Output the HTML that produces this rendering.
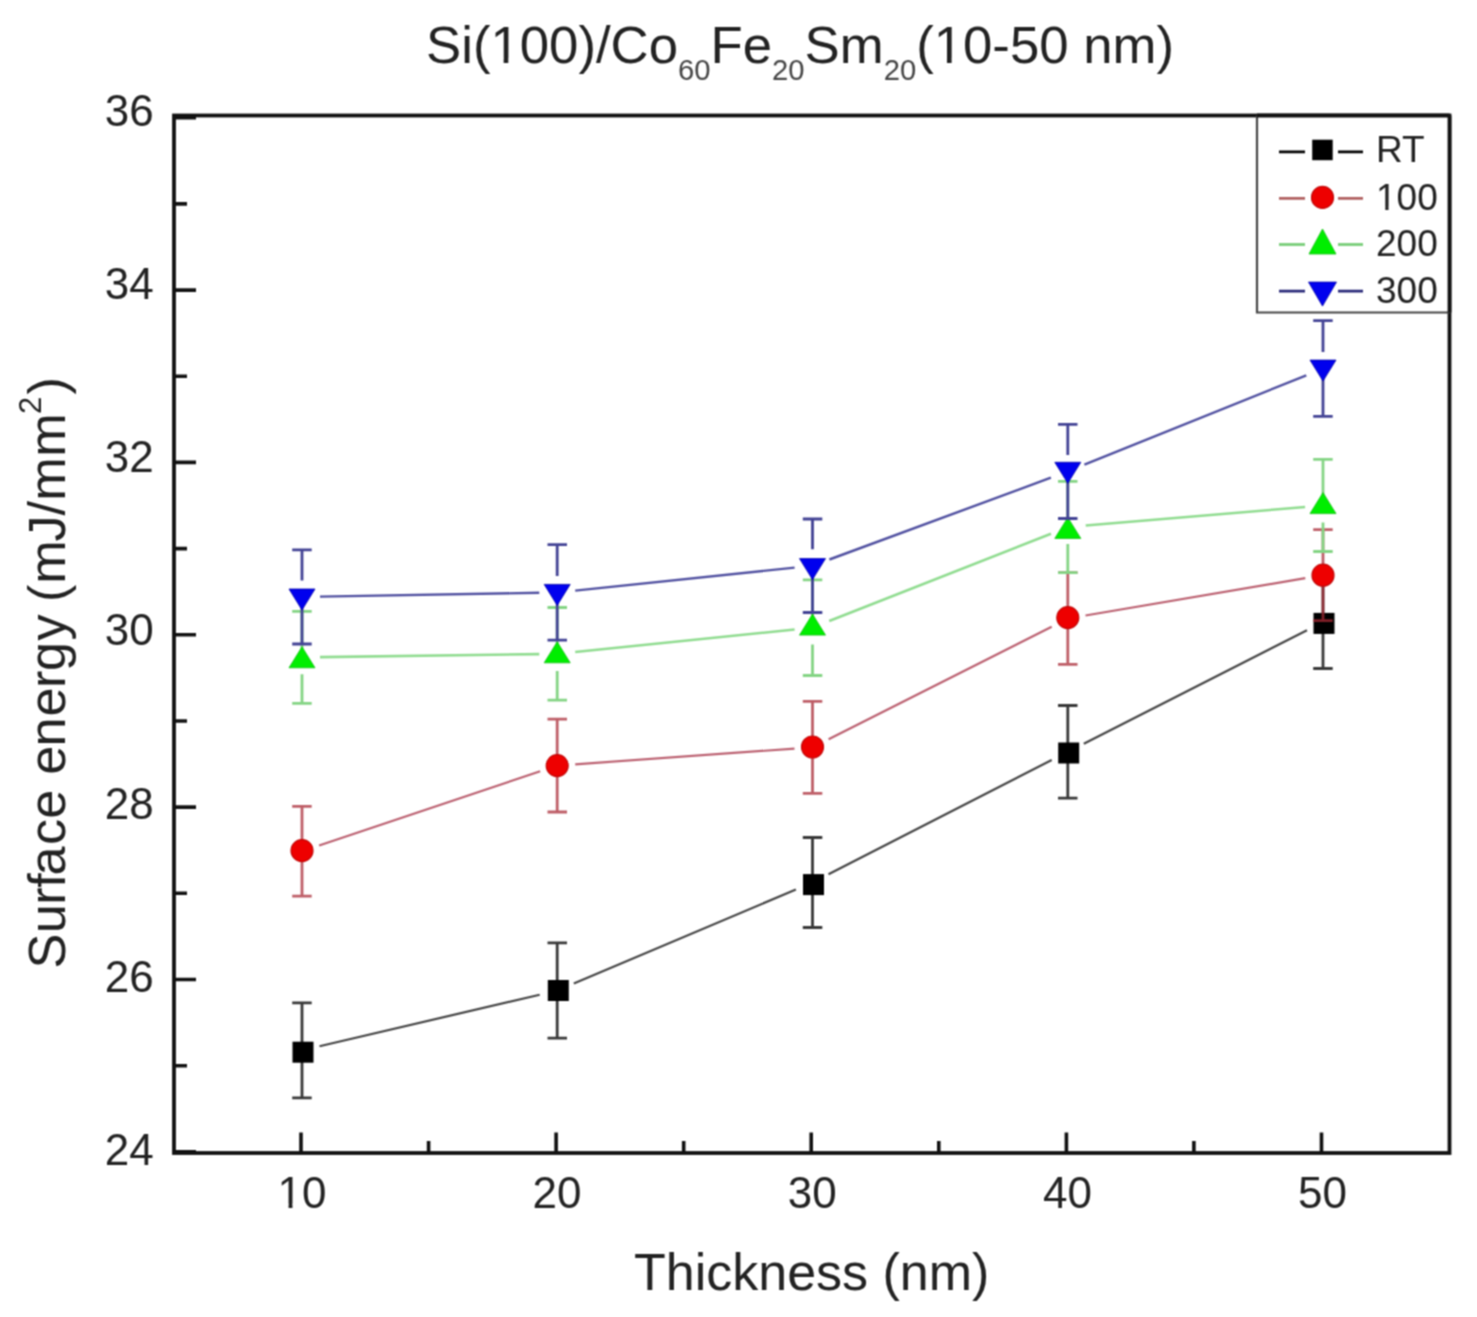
<!DOCTYPE html><html><head><meta charset="utf-8"><style>
html,body{margin:0;padding:0;background:#fff;overflow:hidden;width:1477px;height:1317px;}
svg{display:block;}
text{font-family:"Liberation Sans",sans-serif;fill:#222;}
</style></head><body>
<svg width="1477" height="1317" viewBox="0 0 1477 1317">
<defs><filter id="sf" x="0" y="0" width="1477" height="1317" filterUnits="userSpaceOnUse" color-interpolation-filters="sRGB"><feConvolveMatrix order="3" kernelMatrix="1 2 1 2 4 2 1 2 1" divisor="16" edgeMode="duplicate" preserveAlpha="true"/></filter></defs>
<rect x="0" y="0" width="1477" height="1317" fill="#fff"/>
<g filter="url(#sf)">
<rect x="0" y="0" width="1477" height="1317" fill="#fff"/>
<text x="426" y="63" font-size="52.3" textLength="748" lengthAdjust="spacingAndGlyphs">Si(100)/Co<tspan font-size="29" dy="17" fill="#444">60</tspan><tspan dy="-17">Fe</tspan><tspan font-size="29" dy="17" fill="#444">20</tspan><tspan dy="-17">Sm</tspan><tspan font-size="29" dy="17" fill="#444">20</tspan><tspan dy="-17">(10-50 nm)</tspan></text>
<text transform="translate(64.5,968.5) rotate(-90)" x="0.00 35.38 63.65 80.67 92.91 123.58 149.74 179.02 193.65 221.94 252.02 280.50 297.52 328.00 353.16 366.49 384.69 427.07 453.11 467.84 511.81 554.48 574.03" y="0" font-size="52.3">Surface energy (mJ/mm<tspan font-size="31" dy="-24">2</tspan><tspan dy="24">)</tspan></text>
<text x="634" y="1289.7" font-size="52">Thickness (nm)</text>
<text x="153.7" y="1164.8" font-size="44" text-anchor="end">24</text>
<text x="153.7" y="991.6" font-size="44" text-anchor="end">26</text>
<text x="153.7" y="818.5" font-size="44" text-anchor="end">28</text>
<text x="153.7" y="645.3" font-size="44" text-anchor="end">30</text>
<text x="153.7" y="472.2" font-size="44" text-anchor="end">32</text>
<text x="153.7" y="299.0" font-size="44" text-anchor="end">34</text>
<text x="153.7" y="125.8" font-size="44" text-anchor="end">36</text>
<text x="302.0" y="1207.5" font-size="44" text-anchor="middle">10</text>
<text x="557.1" y="1207.5" font-size="44" text-anchor="middle">20</text>
<text x="812.2" y="1207.5" font-size="44" text-anchor="middle">30</text>
<text x="1067.4" y="1207.5" font-size="44" text-anchor="middle">40</text>
<text x="1322.5" y="1207.5" font-size="44" text-anchor="middle">50</text>
<path d="M174 1151.9H196 M174 1065.7H187 M174 979.5H196 M174 893.3H187 M174 807.1H196 M174 721.0H187 M174 634.8H196 M174 548.6H187 M174 462.4H196 M174 376.2H187 M174 290.1H196 M174 203.9H187 M174 117.7H196 M301.0 1153V1132.5 M428.6 1153V1141 M556.1 1153V1132.5 M683.7 1153V1141 M811.2 1153V1132.5 M938.8 1153V1141 M1066.4 1153V1132.5 M1193.9 1153V1141 M1321.5 1153V1132.5" stroke="#111" stroke-width="3.6" fill="none"/>
<path d="M319.5 1046.2L539.7 994.7 M573.8 983.5L795.9 889.5 M828.5 874.3L1051.7 760.0 M1083.8 743.7L1307.0 630.2" stroke="#444" stroke-width="2.2" fill="none"/>
<path d="M302.0 1002.8V1097.8 M292.2 1002.8h19.5M292.2 1097.8h19.5 M557.2 942.9V1038.2 M547.5 942.9h19.5M547.5 1038.2h19.5 M812.5 837.5V927.5 M802.8 837.5h19.5M802.8 927.5h19.5 M1067.8 705.5V798.2 M1058.0 705.5h19.5M1058.0 798.2h19.5 M1323.0 575.5V668.5 M1313.2 575.5h19.5M1313.2 668.5h19.5" stroke="#383838" stroke-width="2.8" stroke-opacity="1" fill="none"/>
<rect x="292.5" y="1041.7" width="21" height="21" fill="#000"/>
<rect x="547.8" y="980.0" width="21" height="21" fill="#000"/>
<rect x="803.0" y="874.1" width="21" height="21" fill="#000"/>
<rect x="1058.2" y="742.5" width="21" height="21" fill="#000"/>
<rect x="1313.5" y="612.9" width="21" height="21" fill="#000"/>
<path d="M319.1 845.5L540.2 771.3 M575.2 764.3L794.5 748.6 M828.6 739.2L1051.7 626.7 M1085.5 615.5L1305.3 578.2" stroke="#bb6070" stroke-width="2.2" fill="none"/>
<path d="M302.0 806.4V896.1 M292.2 806.4h19.5M292.2 896.1h19.5 M557.2 719.2V812.0 M547.5 719.2h19.5M547.5 812.0h19.5 M812.5 701.4V793.4 M802.8 701.4h19.5M802.8 793.4h19.5 M1067.8 572.7V664.4 M1058.0 572.7h19.5M1058.0 664.4h19.5 M1323.0 529.7V620.7 M1313.2 529.7h19.5M1313.2 620.7h19.5" stroke="#a82834" stroke-width="2.8" stroke-opacity="0.75" fill="none"/>
<circle cx="302.0" cy="850.6" r="11.0" fill="#ee0000" stroke="#c40808" stroke-width="1.2"/>
<circle cx="557.2" cy="765.6" r="11.0" fill="#ee0000" stroke="#c40808" stroke-width="1.2"/>
<circle cx="812.5" cy="747.0" r="11.0" fill="#ee0000" stroke="#c40808" stroke-width="1.2"/>
<circle cx="1067.8" cy="617.6" r="11.0" fill="#ee0000" stroke="#c40808" stroke-width="1.2"/>
<circle cx="1323.0" cy="575.2" r="11.0" fill="#ee0000" stroke="#c40808" stroke-width="1.2"/>
<path d="M320.0 657.1L539.3 654.1 M575.2 652.0L794.6 629.5 M829.2 621.0L1051.0 533.7 M1085.7 525.5L1305.1 507.0" stroke="#90dc90" stroke-width="2.6" fill="none"/>
<path d="M302.0 611.3V657.3M302.0 674.3V703.3 M292.2 611.3h19.5M292.2 703.3h19.5 M557.2 607.5V653.9M557.2 670.9V700.2 M547.5 607.5h19.5M547.5 700.2h19.5 M812.5 579.8V627.6M812.5 644.6V675.5 M802.8 579.8h19.5M802.8 675.5h19.5 M1067.8 481.4V527.0M1067.8 544.0V572.7 M1058.0 481.4h19.5M1058.0 572.7h19.5 M1323.0 459.4V505.4M1323.0 522.5V551.5 M1313.2 459.4h19.5M1313.2 551.5h19.5" stroke="#84d484" stroke-width="2.8" stroke-opacity="1" fill="none"/>
<path d="M302.0 646.8L315.0 667.8L289.0 667.8Z" fill="#00ee00" stroke="#10c010" stroke-width="0.8" stroke-linejoin="round"/>
<path d="M557.2 641.8L570.2 662.8L544.2 662.8Z" fill="#00ee00" stroke="#10c010" stroke-width="0.8" stroke-linejoin="round"/>
<path d="M812.5 614.1L825.5 635.1L799.5 635.1Z" fill="#00ee00" stroke="#10c010" stroke-width="0.8" stroke-linejoin="round"/>
<path d="M1067.8 517.4L1080.8 538.4L1054.8 538.4Z" fill="#00ee00" stroke="#10c010" stroke-width="0.8" stroke-linejoin="round"/>
<path d="M1323.0 492.6L1336.0 513.6L1310.0 513.6Z" fill="#00ee00" stroke="#10c010" stroke-width="0.8" stroke-linejoin="round"/>
<path d="M320.0 596.6L539.3 592.8 M575.2 590.6L794.6 567.6 M829.4 559.5L1050.9 477.7 M1084.4 464.7L1306.3 375.3" stroke="#5050a0" stroke-width="2.4" fill="none"/>
<path d="M302.0 549.8V580.4M302.0 596.9V644.0 M292.2 549.8h19.5M292.2 644.0h19.5 M557.2 544.7V576.0M557.2 592.5V640.2 M547.5 544.7h19.5M547.5 640.2h19.5 M812.5 519.0V549.2M812.5 565.8V612.5 M802.8 519.0h19.5M802.8 612.5h19.5 M1067.8 424.4V454.9M1067.8 471.4V518.5 M1058.0 424.4h19.5M1058.0 518.5h19.5 M1323.0 320.7V352.1M1323.0 368.6V416.4 M1313.2 320.7h19.5M1313.2 416.4h19.5" stroke="#424294" stroke-width="2.8" stroke-opacity="1" fill="none"/>
<path d="M289.0 589.0L315.0 589.0L302.0 610.0Z" fill="#0000ee" stroke="#0000a8" stroke-width="0.8" stroke-linejoin="round"/>
<path d="M544.2 584.4L570.2 584.4L557.2 605.4Z" fill="#0000ee" stroke="#0000a8" stroke-width="0.8" stroke-linejoin="round"/>
<path d="M799.5 558.6L825.5 558.6L812.5 579.6Z" fill="#0000ee" stroke="#0000a8" stroke-width="0.8" stroke-linejoin="round"/>
<path d="M1054.8 462.3L1080.8 462.3L1067.8 483.3Z" fill="#0000ee" stroke="#0000a8" stroke-width="0.8" stroke-linejoin="round"/>
<path d="M1310.0 360.1L1336.0 360.1L1323.0 381.1Z" fill="#0000ee" stroke="#0000a8" stroke-width="0.8" stroke-linejoin="round"/>
<rect x="174" y="115.5" width="1275.5" height="1037.5" fill="none" stroke="#111" stroke-width="3.8"/>
<rect x="1257" y="115.5" width="192.5" height="197" fill="#fff" stroke="none"/>
<path d="M1257 115.5V312.5H1449.5" stroke="#444" stroke-width="2.2" fill="none"/>
<path d="M1449.5 115.5V312.5M1257 115.5H1449.5" stroke="#111" stroke-width="3.8" fill="none"/>
<path d="M1279 151.9H1305M1338 151.9H1363" stroke="#000" stroke-width="2.8" fill="none"/>
<text x="1376" y="161.9" font-size="37">RT</text>
<path d="M1279 198.4H1305M1338 198.4H1363" stroke="#b06060" stroke-width="2.8" fill="none"/>
<text x="1376" y="209.9" font-size="37">100</text>
<path d="M1279 244.5H1305M1338 244.5H1363" stroke="#80d080" stroke-width="2.8" fill="none"/>
<text x="1376" y="256.0" font-size="37">200</text>
<path d="M1279 291.1H1305M1338 291.1H1363" stroke="#282878" stroke-width="2.8" fill="none"/>
<text x="1376" y="302.6" font-size="37">300</text>
<rect x="1312.2" y="139.7" width="20.5" height="20.5" fill="#000"/>
<circle cx="1322.5" cy="197.4" r="11.0" fill="#ee0000" stroke="#c40808" stroke-width="1.2"/>
<path d="M1322.5 229.0L1336.0 254.0L1309.0 254.0Z" fill="#00ee00" stroke="#10c010" stroke-width="0.8" stroke-linejoin="round"/>
<path d="M1308.5 282.1L1336.5 282.1L1322.5 306.1Z" fill="#0000ee" stroke="#0000a8" stroke-width="0.8" stroke-linejoin="round"/>
<rect x="492.00" y="58.55" width="11.66" height="5.95" fill="#fff"/>
<rect x="508.31" y="58.55" width="11.14" height="5.95" fill="#fff"/>
<rect x="935.30" y="58.55" width="11.66" height="5.95" fill="#fff"/>
<rect x="951.61" y="58.55" width="11.14" height="5.95" fill="#fff"/>
<rect x="278.84" y="1203.76" width="9.73" height="5.24" fill="#fff"/>
<rect x="292.45" y="1203.76" width="9.29" height="5.24" fill="#fff"/>
<rect x="1377.11" y="206.75" width="8.18" height="4.64" fill="#fff"/>
<rect x="1388.55" y="206.75" width="7.81" height="4.64" fill="#fff"/>
</g></svg></body></html>
